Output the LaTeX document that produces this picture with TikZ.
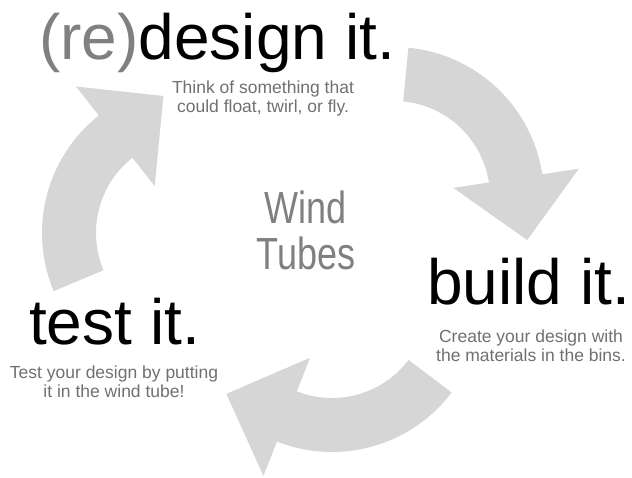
\documentclass[tikz,border=0pt]{standalone}
\usepackage{fontspec}
\setmainfont{Liberation Sans}
\usepackage{tikz}
\usepackage{xcolor}

\definecolor{arrowgray}{RGB}{214,214,214}
\definecolor{titlegray}{RGB}{128,128,128}
\definecolor{notegray}{RGB}{112,112,112}

\begin{document}
\begin{tikzpicture}[x=1pt, y=1pt,
    heading/.style={anchor=base west, inner sep=0pt, font=\fontsize{64}{64}\selectfont},
    note/.style={anchor=base, inner sep=0pt, align=center, text=notegray, font=\fontsize{17.5}{19}\selectfont}]
    \useasboundingbox (0,0) rectangle (632,477);
    % curved arrows, each one around its own centre
    \fill[arrowgray, shift={(394,280)}] (84.5:150) arc[start angle=84.5, end angle=8.7, radius=150pt]
        -- (8.7:187) -- (-17.9:140) -- (8.7:60) -- (8.7:96)
        arc[start angle=8.7, end angle=84.5, radius=96pt] -- cycle;
    \fill[arrowgray, shift={(332,175)}] (-37.1:150) arc[start angle=-37.1, end angle=-111.5, radius=150pt]
        -- (-111.5:187) -- (-139:140) -- (-111.5:60) -- (-111.5:96)
        arc[start angle=-111.5, end angle=-37.1, radius=96pt] -- cycle;
    \fill[arrowgray, shift={(192,244)}] (202.8:150) arc[start angle=202.8, end angle=128.4, radius=150pt]
        -- (128.4:187) -- (101.8:140) -- (128.4:60) -- (128.4:96)
        arc[start angle=128.4, end angle=202.8, radius=96pt] -- cycle;
    % steps and their notes (a note sits on the baseline of its last line)
    \node[heading] (redesign) at (39,417.7) {{\color{titlegray}(re)}design it.};
    \node[note] (think) at (263,364) {Think of something that\\could float, twirl, or fly.};
    \node[heading] (build) at (427,172) {build it.};
    \node[note] (create) at (531,115) {Create your design with\\the materials in the bins.};
    \node[heading] (test) at (29,132) {test it.};
    \node[note] (testnote) at (114,80) {Test your design by putting\\it in the wind tube!};
    % title in the middle
    \node[anchor=base, inner sep=0pt, align=center, text=titlegray, yscale=1.25,
        font=\fontsize{36}{37.5}\selectfont] (wind) at (306,207) {Wind\\Tubes};
\end{tikzpicture}
\end{document}
